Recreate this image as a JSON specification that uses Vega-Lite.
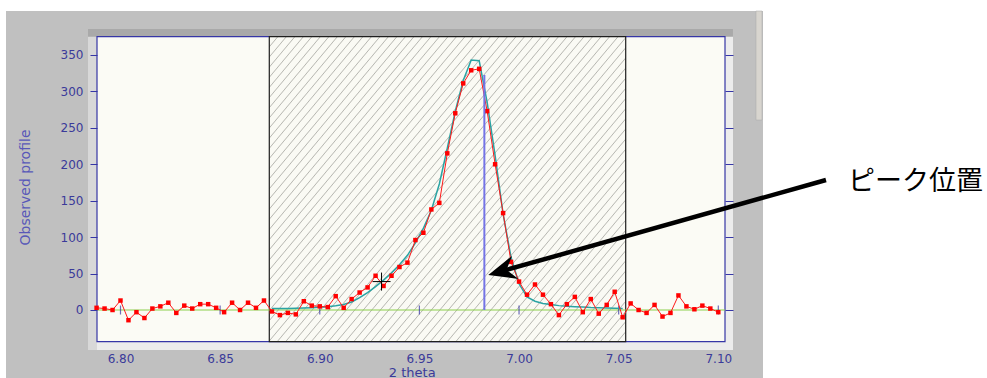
{
  "$schema": "https://vega.github.io/schema/vega-lite/v6.json",
  "width": 987,
  "height": 378,
  "autosize": {"type": "none"},
  "padding": 0,
  "background": "#ffffff",
  "config": {"view": {"stroke": null}},
  "datasets": {
    "obs": [
      {"t": 6.788, "v": 3}, {"t": 6.792, "v": 2}, {"t": 6.796, "v": 0}, {"t": 6.800, "v": 13},
      {"t": 6.804, "v": -14}, {"t": 6.808, "v": -3}, {"t": 6.812, "v": -11}, {"t": 6.816, "v": 2},
      {"t": 6.820, "v": 5}, {"t": 6.824, "v": 10}, {"t": 6.828, "v": -4}, {"t": 6.832, "v": 6},
      {"t": 6.836, "v": 2}, {"t": 6.840, "v": 8}, {"t": 6.844, "v": 8}, {"t": 6.848, "v": 3},
      {"t": 6.852, "v": -3}, {"t": 6.856, "v": 10}, {"t": 6.860, "v": 0}, {"t": 6.864, "v": 10},
      {"t": 6.868, "v": 3}, {"t": 6.872, "v": 13}, {"t": 6.876, "v": -2}, {"t": 6.880, "v": -7},
      {"t": 6.884, "v": -4}, {"t": 6.888, "v": -6}, {"t": 6.892, "v": 12}, {"t": 6.896, "v": 6},
      {"t": 6.900, "v": 5}, {"t": 6.904, "v": 4}, {"t": 6.908, "v": 19}, {"t": 6.912, "v": 3},
      {"t": 6.916, "v": 15}, {"t": 6.920, "v": 24}, {"t": 6.924, "v": 31}, {"t": 6.928, "v": 47},
      {"t": 6.932, "v": 33}, {"t": 6.936, "v": 47}, {"t": 6.940, "v": 59}, {"t": 6.944, "v": 65},
      {"t": 6.948, "v": 96}, {"t": 6.952, "v": 106}, {"t": 6.956, "v": 138}, {"t": 6.960, "v": 147},
      {"t": 6.964, "v": 215}, {"t": 6.968, "v": 270}, {"t": 6.972, "v": 311}, {"t": 6.976, "v": 329},
      {"t": 6.980, "v": 331}, {"t": 6.984, "v": 273}, {"t": 6.988, "v": 200}, {"t": 6.992, "v": 133},
      {"t": 6.996, "v": 66}, {"t": 7.000, "v": 39}, {"t": 7.004, "v": 21}, {"t": 7.008, "v": 35},
      {"t": 7.012, "v": 21}, {"t": 7.016, "v": 8}, {"t": 7.020, "v": -7}, {"t": 7.024, "v": 8},
      {"t": 7.028, "v": 18}, {"t": 7.032, "v": -3}, {"t": 7.036, "v": 15}, {"t": 7.040, "v": -5},
      {"t": 7.044, "v": 7}, {"t": 7.048, "v": 25}, {"t": 7.052, "v": -10}, {"t": 7.056, "v": 9},
      {"t": 7.060, "v": 0}, {"t": 7.064, "v": -4}, {"t": 7.068, "v": 7}, {"t": 7.072, "v": -9},
      {"t": 7.076, "v": -4}, {"t": 7.080, "v": 20}, {"t": 7.084, "v": 5}, {"t": 7.088, "v": 1},
      {"t": 7.092, "v": 6}, {"t": 7.096, "v": 2}, {"t": 7.100, "v": -3}
    ],
    "fit": [
      {"t": 6.876, "v": 2}, {"t": 6.880, "v": 2}, {"t": 6.884, "v": 2}, {"t": 6.888, "v": 2.3},
      {"t": 6.892, "v": 2.7}, {"t": 6.896, "v": 3.2}, {"t": 6.900, "v": 3.8}, {"t": 6.904, "v": 4.5},
      {"t": 6.908, "v": 5.8}, {"t": 6.912, "v": 7.5}, {"t": 6.916, "v": 11}, {"t": 6.920, "v": 17},
      {"t": 6.924, "v": 24}, {"t": 6.928, "v": 32}, {"t": 6.932, "v": 41}, {"t": 6.936, "v": 51},
      {"t": 6.940, "v": 62}, {"t": 6.944, "v": 75}, {"t": 6.948, "v": 92}, {"t": 6.952, "v": 112},
      {"t": 6.956, "v": 137}, {"t": 6.960, "v": 173}, {"t": 6.964, "v": 222}, {"t": 6.968, "v": 273},
      {"t": 6.972, "v": 315}, {"t": 6.976, "v": 343}, {"t": 6.980, "v": 342}, {"t": 6.984, "v": 285},
      {"t": 6.988, "v": 212}, {"t": 6.992, "v": 132}, {"t": 6.996, "v": 72}, {"t": 7.000, "v": 36},
      {"t": 7.004, "v": 18}, {"t": 7.008, "v": 12}, {"t": 7.012, "v": 9}, {"t": 7.016, "v": 7.5},
      {"t": 7.020, "v": 6}, {"t": 7.024, "v": 5}, {"t": 7.028, "v": 4.5}, {"t": 7.032, "v": 4},
      {"t": 7.036, "v": 3.3}, {"t": 7.040, "v": 3}, {"t": 7.044, "v": 2.6}, {"t": 7.048, "v": 2.4},
      {"t": 7.052, "v": 2.2}
    ],
    "xt": [
      {"t": 6.80}, {"t": 6.85}, {"t": 6.90}, {"t": 6.95}, {"t": 7.00}, {"t": 7.05}, {"t": 7.10}
    ],
    "one": [{}]
  },
  "resolve": {"axis": {"x": "independent", "y": "independent"}},
  "layer": [
    {
      "data": {"name": "one"},
      "mark": {"type": "rect", "fill": "#c0c0c0"},
      "encoding": {
        "x": {"datum": 6.74254, "type": "quantitative", "axis": null,
              "scale": {"domain": [6.73953, 7.23484], "nice": false, "zero": false}},
        "x2": {"datum": 7.12243},
        "y": {"datum": 410.38, "type": "quantitative", "axis": null,
              "scale": {"domain": [-93.33, 425.47], "nice": false, "zero": false}},
        "y2": {"datum": -100}
      }
    },
    {
      "data": {"name": "one"},
      "mark": {"type": "rect", "fill": "#d8d5cf", "stroke": "#a8a8a8", "strokeWidth": 0.5},
      "encoding": {
        "x": {"datum": 7.11891, "type": "quantitative", "axis": null},
        "x2": {"datum": 7.12193},
        "y": {"datum": 410.38, "type": "quantitative", "axis": null},
        "y2": {"datum": 260.77}
      }
    },
    {
      "data": {"name": "one"},
      "mark": {"type": "rect", "fill": "#ececec"},
      "encoding": {
        "x": {"datum": 6.78369, "type": "quantitative", "axis": null},
        "x2": {"datum": 7.10737},
        "y": {"datum": 385.67, "type": "quantitative", "axis": null},
        "y2": {"datum": -54.9}
      }
    },
    {
      "data": {"name": "one"},
      "mark": {"type": "rect", "fill": "#d8d8d8"},
      "encoding": {
        "x": {"datum": 6.78369, "type": "quantitative", "axis": null},
        "x2": {"datum": 6.78821},
        "y": {"datum": 385.67, "type": "quantitative", "axis": null},
        "y2": {"datum": -54.9}
      }
    },
    {
      "data": {"name": "one"},
      "mark": {"type": "rect", "fill": "#a9a9a9"},
      "encoding": {
        "x": {"datum": 6.78369, "type": "quantitative", "axis": null},
        "x2": {"datum": 7.10737},
        "y": {"datum": 385.67, "type": "quantitative", "axis": null},
        "y2": {"datum": 375.1}
      }
    },
    {
      "data": {"name": "one"},
      "mark": {"type": "rect", "fill": "#fbfbf5", "stroke": "#3636a6", "strokeWidth": 1.2},
      "encoding": {
        "x": {"datum": 6.78821, "type": "quantitative", "axis": null},
        "x2": {"datum": 7.10336},
        "y": {"datum": 375.1, "type": "quantitative", "axis": null},
        "y2": {"datum": -43.51}
      }
    },
    {
      "data": {"name": "one"},
      "mark": {"type": "rect", "stroke": "#1e1e1e", "strokeWidth": 1.2,
        "fill": {"gradient": "linear", "x1": 0, "y1": 0, "x2": 1.134, "y2": 0.814, "stops": [
          {"offset": 0, "color": "#b8b8b2"}, {"offset": 0.0017, "color": "#fafaf4"}, {"offset": 0.0122, "color": "#fafaf4"},
          {"offset": 0.0139, "color": "#b8b8b2"}, {"offset": 0.0156, "color": "#fafaf4"}, {"offset": 0.0261, "color": "#fafaf4"},
          {"offset": 0.0278, "color": "#b8b8b2"}, {"offset": 0.0295, "color": "#fafaf4"}, {"offset": 0.0400, "color": "#fafaf4"},
          {"offset": 0.0417, "color": "#b8b8b2"}, {"offset": 0.0434, "color": "#fafaf4"}, {"offset": 0.0539, "color": "#fafaf4"},
          {"offset": 0.0556, "color": "#b8b8b2"}, {"offset": 0.0573, "color": "#fafaf4"}, {"offset": 0.0677, "color": "#fafaf4"},
          {"offset": 0.0694, "color": "#b8b8b2"}, {"offset": 0.0711, "color": "#fafaf4"}, {"offset": 0.0816, "color": "#fafaf4"},
          {"offset": 0.0833, "color": "#b8b8b2"}, {"offset": 0.0850, "color": "#fafaf4"}, {"offset": 0.0955, "color": "#fafaf4"},
          {"offset": 0.0972, "color": "#b8b8b2"}, {"offset": 0.0989, "color": "#fafaf4"}, {"offset": 0.1094, "color": "#fafaf4"},
          {"offset": 0.1111, "color": "#b8b8b2"}, {"offset": 0.1128, "color": "#fafaf4"}, {"offset": 0.1233, "color": "#fafaf4"},
          {"offset": 0.1250, "color": "#b8b8b2"}, {"offset": 0.1267, "color": "#fafaf4"}, {"offset": 0.1372, "color": "#fafaf4"},
          {"offset": 0.1389, "color": "#b8b8b2"}, {"offset": 0.1406, "color": "#fafaf4"}, {"offset": 0.1511, "color": "#fafaf4"},
          {"offset": 0.1528, "color": "#b8b8b2"}, {"offset": 0.1545, "color": "#fafaf4"}, {"offset": 0.1650, "color": "#fafaf4"},
          {"offset": 0.1667, "color": "#b8b8b2"}, {"offset": 0.1684, "color": "#fafaf4"}, {"offset": 0.1789, "color": "#fafaf4"},
          {"offset": 0.1806, "color": "#b8b8b2"}, {"offset": 0.1823, "color": "#fafaf4"}, {"offset": 0.1927, "color": "#fafaf4"},
          {"offset": 0.1944, "color": "#b8b8b2"}, {"offset": 0.1961, "color": "#fafaf4"}, {"offset": 0.2066, "color": "#fafaf4"},
          {"offset": 0.2083, "color": "#b8b8b2"}, {"offset": 0.2100, "color": "#fafaf4"}, {"offset": 0.2205, "color": "#fafaf4"},
          {"offset": 0.2222, "color": "#b8b8b2"}, {"offset": 0.2239, "color": "#fafaf4"}, {"offset": 0.2344, "color": "#fafaf4"},
          {"offset": 0.2361, "color": "#b8b8b2"}, {"offset": 0.2378, "color": "#fafaf4"}, {"offset": 0.2483, "color": "#fafaf4"},
          {"offset": 0.2500, "color": "#b8b8b2"}, {"offset": 0.2517, "color": "#fafaf4"}, {"offset": 0.2622, "color": "#fafaf4"},
          {"offset": 0.2639, "color": "#b8b8b2"}, {"offset": 0.2656, "color": "#fafaf4"}, {"offset": 0.2761, "color": "#fafaf4"},
          {"offset": 0.2778, "color": "#b8b8b2"}, {"offset": 0.2795, "color": "#fafaf4"}, {"offset": 0.2900, "color": "#fafaf4"},
          {"offset": 0.2917, "color": "#b8b8b2"}, {"offset": 0.2934, "color": "#fafaf4"}, {"offset": 0.3039, "color": "#fafaf4"},
          {"offset": 0.3056, "color": "#b8b8b2"}, {"offset": 0.3073, "color": "#fafaf4"}, {"offset": 0.3177, "color": "#fafaf4"},
          {"offset": 0.3194, "color": "#b8b8b2"}, {"offset": 0.3211, "color": "#fafaf4"}, {"offset": 0.3316, "color": "#fafaf4"},
          {"offset": 0.3333, "color": "#b8b8b2"}, {"offset": 0.3350, "color": "#fafaf4"}, {"offset": 0.3455, "color": "#fafaf4"},
          {"offset": 0.3472, "color": "#b8b8b2"}, {"offset": 0.3489, "color": "#fafaf4"}, {"offset": 0.3594, "color": "#fafaf4"},
          {"offset": 0.3611, "color": "#b8b8b2"}, {"offset": 0.3628, "color": "#fafaf4"}, {"offset": 0.3733, "color": "#fafaf4"},
          {"offset": 0.3750, "color": "#b8b8b2"}, {"offset": 0.3767, "color": "#fafaf4"}, {"offset": 0.3872, "color": "#fafaf4"},
          {"offset": 0.3889, "color": "#b8b8b2"}, {"offset": 0.3906, "color": "#fafaf4"}, {"offset": 0.4011, "color": "#fafaf4"},
          {"offset": 0.4028, "color": "#b8b8b2"}, {"offset": 0.4045, "color": "#fafaf4"}, {"offset": 0.4150, "color": "#fafaf4"},
          {"offset": 0.4167, "color": "#b8b8b2"}, {"offset": 0.4184, "color": "#fafaf4"}, {"offset": 0.4289, "color": "#fafaf4"},
          {"offset": 0.4306, "color": "#b8b8b2"}, {"offset": 0.4323, "color": "#fafaf4"}, {"offset": 0.4427, "color": "#fafaf4"},
          {"offset": 0.4444, "color": "#b8b8b2"}, {"offset": 0.4461, "color": "#fafaf4"}, {"offset": 0.4566, "color": "#fafaf4"},
          {"offset": 0.4583, "color": "#b8b8b2"}, {"offset": 0.4600, "color": "#fafaf4"}, {"offset": 0.4705, "color": "#fafaf4"},
          {"offset": 0.4722, "color": "#b8b8b2"}, {"offset": 0.4739, "color": "#fafaf4"}, {"offset": 0.4844, "color": "#fafaf4"},
          {"offset": 0.4861, "color": "#b8b8b2"}, {"offset": 0.4878, "color": "#fafaf4"}, {"offset": 0.4983, "color": "#fafaf4"},
          {"offset": 0.5000, "color": "#b8b8b2"}, {"offset": 0.5017, "color": "#fafaf4"}, {"offset": 0.5122, "color": "#fafaf4"},
          {"offset": 0.5139, "color": "#b8b8b2"}, {"offset": 0.5156, "color": "#fafaf4"}, {"offset": 0.5261, "color": "#fafaf4"},
          {"offset": 0.5278, "color": "#b8b8b2"}, {"offset": 0.5295, "color": "#fafaf4"}, {"offset": 0.5400, "color": "#fafaf4"},
          {"offset": 0.5417, "color": "#b8b8b2"}, {"offset": 0.5434, "color": "#fafaf4"}, {"offset": 0.5539, "color": "#fafaf4"},
          {"offset": 0.5556, "color": "#b8b8b2"}, {"offset": 0.5573, "color": "#fafaf4"}, {"offset": 0.5677, "color": "#fafaf4"},
          {"offset": 0.5694, "color": "#b8b8b2"}, {"offset": 0.5711, "color": "#fafaf4"}, {"offset": 0.5816, "color": "#fafaf4"},
          {"offset": 0.5833, "color": "#b8b8b2"}, {"offset": 0.5850, "color": "#fafaf4"}, {"offset": 0.5955, "color": "#fafaf4"},
          {"offset": 0.5972, "color": "#b8b8b2"}, {"offset": 0.5989, "color": "#fafaf4"}, {"offset": 0.6094, "color": "#fafaf4"},
          {"offset": 0.6111, "color": "#b8b8b2"}, {"offset": 0.6128, "color": "#fafaf4"}, {"offset": 0.6233, "color": "#fafaf4"},
          {"offset": 0.6250, "color": "#b8b8b2"}, {"offset": 0.6267, "color": "#fafaf4"}, {"offset": 0.6372, "color": "#fafaf4"},
          {"offset": 0.6389, "color": "#b8b8b2"}, {"offset": 0.6406, "color": "#fafaf4"}, {"offset": 0.6511, "color": "#fafaf4"},
          {"offset": 0.6528, "color": "#b8b8b2"}, {"offset": 0.6545, "color": "#fafaf4"}, {"offset": 0.6650, "color": "#fafaf4"},
          {"offset": 0.6667, "color": "#b8b8b2"}, {"offset": 0.6684, "color": "#fafaf4"}, {"offset": 0.6789, "color": "#fafaf4"},
          {"offset": 0.6806, "color": "#b8b8b2"}, {"offset": 0.6823, "color": "#fafaf4"}, {"offset": 0.6927, "color": "#fafaf4"},
          {"offset": 0.6944, "color": "#b8b8b2"}, {"offset": 0.6961, "color": "#fafaf4"}, {"offset": 0.7066, "color": "#fafaf4"},
          {"offset": 0.7083, "color": "#b8b8b2"}, {"offset": 0.7100, "color": "#fafaf4"}, {"offset": 0.7205, "color": "#fafaf4"},
          {"offset": 0.7222, "color": "#b8b8b2"}, {"offset": 0.7239, "color": "#fafaf4"}, {"offset": 0.7344, "color": "#fafaf4"},
          {"offset": 0.7361, "color": "#b8b8b2"}, {"offset": 0.7378, "color": "#fafaf4"}, {"offset": 0.7483, "color": "#fafaf4"},
          {"offset": 0.7500, "color": "#b8b8b2"}, {"offset": 0.7517, "color": "#fafaf4"}, {"offset": 0.7622, "color": "#fafaf4"},
          {"offset": 0.7639, "color": "#b8b8b2"}, {"offset": 0.7656, "color": "#fafaf4"}, {"offset": 0.7761, "color": "#fafaf4"},
          {"offset": 0.7778, "color": "#b8b8b2"}, {"offset": 0.7795, "color": "#fafaf4"}, {"offset": 0.7900, "color": "#fafaf4"},
          {"offset": 0.7917, "color": "#b8b8b2"}, {"offset": 0.7934, "color": "#fafaf4"}, {"offset": 0.8039, "color": "#fafaf4"},
          {"offset": 0.8056, "color": "#b8b8b2"}, {"offset": 0.8073, "color": "#fafaf4"}, {"offset": 0.8177, "color": "#fafaf4"},
          {"offset": 0.8194, "color": "#b8b8b2"}, {"offset": 0.8211, "color": "#fafaf4"}, {"offset": 0.8316, "color": "#fafaf4"},
          {"offset": 0.8333, "color": "#b8b8b2"}, {"offset": 0.8350, "color": "#fafaf4"}, {"offset": 0.8455, "color": "#fafaf4"},
          {"offset": 0.8472, "color": "#b8b8b2"}, {"offset": 0.8489, "color": "#fafaf4"}, {"offset": 0.8594, "color": "#fafaf4"},
          {"offset": 0.8611, "color": "#b8b8b2"}, {"offset": 0.8628, "color": "#fafaf4"}, {"offset": 0.8733, "color": "#fafaf4"},
          {"offset": 0.8750, "color": "#b8b8b2"}, {"offset": 0.8767, "color": "#fafaf4"}, {"offset": 0.8872, "color": "#fafaf4"},
          {"offset": 0.8889, "color": "#b8b8b2"}, {"offset": 0.8906, "color": "#fafaf4"}, {"offset": 0.9011, "color": "#fafaf4"},
          {"offset": 0.9028, "color": "#b8b8b2"}, {"offset": 0.9045, "color": "#fafaf4"}, {"offset": 0.9150, "color": "#fafaf4"},
          {"offset": 0.9167, "color": "#b8b8b2"}, {"offset": 0.9184, "color": "#fafaf4"}, {"offset": 0.9289, "color": "#fafaf4"},
          {"offset": 0.9306, "color": "#b8b8b2"}, {"offset": 0.9323, "color": "#fafaf4"}, {"offset": 0.9427, "color": "#fafaf4"},
          {"offset": 0.9444, "color": "#b8b8b2"}, {"offset": 0.9461, "color": "#fafaf4"}, {"offset": 0.9566, "color": "#fafaf4"},
          {"offset": 0.9583, "color": "#b8b8b2"}, {"offset": 0.9600, "color": "#fafaf4"}, {"offset": 0.9705, "color": "#fafaf4"},
          {"offset": 0.9722, "color": "#b8b8b2"}, {"offset": 0.9739, "color": "#fafaf4"}, {"offset": 0.9844, "color": "#fafaf4"},
          {"offset": 0.9861, "color": "#b8b8b2"}, {"offset": 0.9878, "color": "#fafaf4"}, {"offset": 0.9983, "color": "#fafaf4"},
          {"offset": 1, "color": "#b8b8b2"}
        ]}},
      "encoding": {
        "x": {"datum": 6.87467, "type": "quantitative", "axis": null},
        "x2": {"datum": 7.05353},
        "y": {"datum": 375.1, "type": "quantitative", "axis": null},
        "y2": {"datum": -43.51}
      }
    },
    {
      "data": {"name": "one"},
      "mark": {"type": "rule", "color": "#8ccf4d", "strokeWidth": 1.2},
      "encoding": {
        "x": {"datum": 6.78821, "type": "quantitative", "axis": null},
        "x2": {"datum": 7.10336},
        "y": {"datum": 0, "type": "quantitative", "axis": null}
      }
    },
    {
      "data": {"name": "xt"},
      "mark": {"type": "tick", "orient": "vertical", "size": 9, "thickness": 1.2, "color": "#3030a0"},
      "encoding": {
        "x": {"field": "t", "type": "quantitative", "axis": null},
        "y": {"datum": 0, "type": "quantitative", "axis": null}
      }
    },
    {
      "data": {"name": "fit"},
      "mark": {"type": "line", "color": "#2aa3a3", "strokeWidth": 1.5},
      "encoding": {
        "x": {"field": "t", "type": "quantitative", "axis": null},
        "y": {"field": "v", "type": "quantitative", "axis": null}
      }
    },
    {
      "data": {"name": "obs"},
      "mark": {"type": "line", "color": "#ff1a1a", "strokeWidth": 1},
      "encoding": {
        "x": {"field": "t", "type": "quantitative",
              "axis": {"orient": "bottom", "offset": -36, "zindex": 1, "values": [6.8, 6.85, 6.9, 6.95, 7.0, 7.05, 7.1],
                       "format": ".2f", "domain": false, "ticks": true, "tickSize": 0, "tickOpacity": 0, "grid": false,
                       "labelPadding": 11, "labelFont": "DejaVu Sans", "labelFontSize": 12,
                       "labelColor": "#3a3a9a", "labelFlush": false, "labelOverlap": false,
                       "title": "2 theta", "titleFont": "DejaVu Sans", "titleFontSize": 13,
                       "titleFontWeight": "normal", "titleColor": "#3a3a9a",
                       "titleX": 411.7, "titleY": 30, "titleAlign": "center", "titleBaseline": "middle"}},
        "y": {"field": "v", "type": "quantitative",
              "axis": {"orient": "left", "offset": -97, "zindex": 1, "values": [0, 50, 100, 150, 200, 250, 300, 350],
                       "domain": false, "grid": false, "ticks": true, "tickSize": 7, "tickColor": "#3636a6",
                       "labelPadding": 7, "labelFont": "DejaVu Sans", "labelFontSize": 12,
                       "labelColor": "#3a3a9a", "labelFlush": false, "labelOverlap": false,
                       "title": "Observed profile", "titleFont": "DejaVu Sans", "titleFontSize": 14,
                       "titleFontWeight": "normal", "titleColor": "#5858b8", "titleAngle": 270,
                       "titleX": -72, "titleY": 187, "titleAlign": "center", "titleBaseline": "middle"}}
      }
    },
    {
      "data": {"name": "obs"},
      "mark": {"type": "point", "shape": "square", "filled": true, "size": 20, "color": "#ff0000", "opacity": 1},
      "encoding": {
        "x": {"field": "t", "type": "quantitative", "axis": null},
        "y": {"field": "v", "type": "quantitative",
              "axis": {"orient": "right", "offset": -262, "zindex": 1, "values": [0, 50, 100, 150, 200, 250, 300, 350],
                       "domain": false, "grid": false, "labels": false, "ticks": true, "tickSize": 8,
                       "tickColor": "#3636a6", "title": null}}
      }
    },
    {
      "data": {"name": "one"},
      "mark": {"type": "rule", "color": "#7474e6", "strokeWidth": 2},
      "encoding": {
        "x": {"datum": 6.9826, "type": "quantitative", "axis": null},
        "y": {"datum": 0, "type": "quantitative", "axis": null},
        "y2": {"datum": 322.6}
      }
    },
    {
      "data": {"name": "one"},
      "mark": {"type": "point", "shape": "M-1,0H1M0,-1V1", "filled": false, "stroke": "#000000", "strokeWidth": 1, "size": 324, "opacity": 1},
      "encoding": {
        "x": {"datum": 6.931, "type": "quantitative", "axis": null},
        "y": {"datum": 39, "type": "quantitative", "axis": null}
      }
    },
    {
      "data": {"name": "one"},
      "mark": {"type": "rule", "color": "#000000", "strokeWidth": 4.5, "strokeCap": "butt"},
      "encoding": {
        "x": {"datum": 7.15404, "type": "quantitative", "axis": null},
        "x2": {"datum": 6.99325},
        "y": {"datum": 178.42, "type": "quantitative", "axis": null},
        "y2": {"datum": 54.76}
      }
    },
    {
      "data": {"name": "one"},
      "mark": {"type": "point", "shape": "M0,0L-2,-0.85L-1.35,0L-2,0.85Z", "filled": true, "fill": "#000000", "stroke": null, "size": 784, "angle": 164.3, "opacity": 1},
      "encoding": {
        "x": {"datum": 6.98457, "type": "quantitative", "axis": null},
        "y": {"datum": 48.04, "type": "quantitative", "axis": null}
      }
    },
    {
      "data": {"name": "one"},
      "mark": {"type": "text", "text": "ピーク位置", "font": "Noto Sans CJK JP", "fontSize": 27, "align": "left", "baseline": "middle", "color": "#000000"},
      "encoding": {
        "x": {"datum": 7.16508, "type": "quantitative", "axis": null},
        "y": {"datum": 175.68, "type": "quantitative", "axis": null}
      }
    }
  ]
}
